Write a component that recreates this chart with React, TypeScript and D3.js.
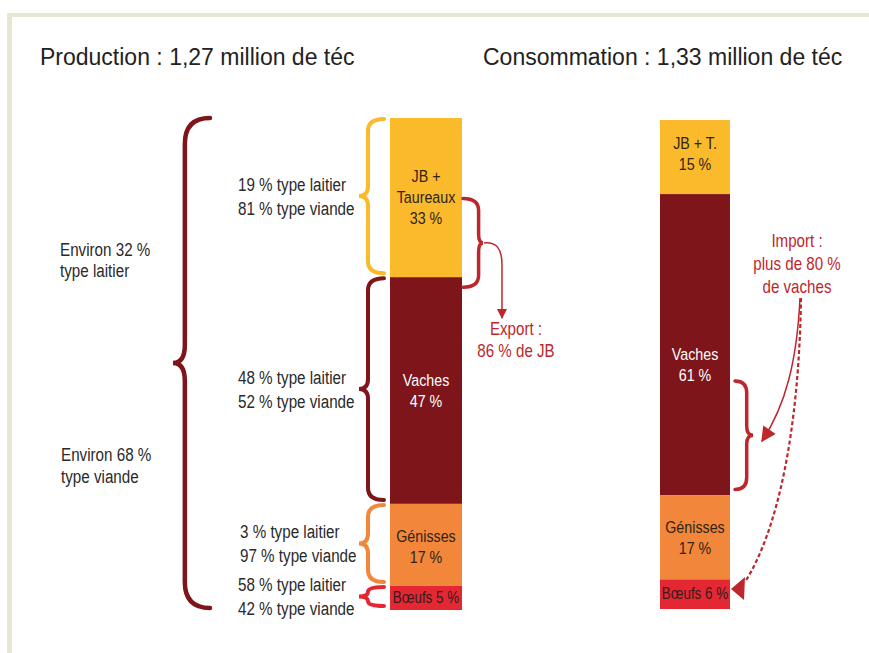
import * as d3 from 'd3';

// segments of the two stacked bars
const SEGMENT_KEYS = ['jb', 'vaches', 'genisses', 'boeufs'];
const PROD_NAMES = [['JB +', 'Taureaux'], ['Vaches'], ['Génisses'], ['Bœufs']];
const CONS_NAMES = [['JB + T.'], ['Vaches'], ['Génisses'], ['Bœufs']];
const PROD_SHARES = [33, 47, 17, 5];
const CONS_SHARES = [15, 61, 17, 6];

// breed split of each production segment
const DAIRY_SHARES = [19, 48, 3, 58];
const MEAT_SHARES = [81, 52, 97, 42];

// whole herd split
const OVERALL_DAIRY = 32;
const OVERALL_MEAT = 68;

const PROD_TOTAL = '1,27';
const CONS_TOTAL = '1,33';

const EXPORT_LINES = ['Export :', '86 % de JB'];
const IMPORT_LINES = ['Import :', 'plus de 80 %', 'de vaches'];

const COLORS = ['#fbb92c', '#7d151b', '#f2863b', '#e32834'];
const TEXT_COLORS = ['#2e2418', '#ffffff', '#2e2418', '#3a1a1a'];
const RED = '#bd262c';
const DARK = '#7d151b';
const INK = '#2a2a2a';

const FONT = "'Liberation Sans', Arial, sans-serif";

const W = 869;
const H = 653;

// curly brace, tip pointing left (dir=-1) or right (dir=1)
const brace = (x0: number, y0: number, y1: number, w: number, dir: number, spine = 0.65, rEnd = 12, rMid = 10) => {
  const xs = x0 + dir * w * spine;
  const xt = x0 + dir * w;
  const ym = (y0 + y1) / 2;
  const re = Math.min(rEnd, (y1 - y0) / 4);
  const rm = Math.min(rMid, (y1 - y0) / 4);
  return `M${x0},${y0} Q${xs},${y0} ${xs},${y0 + re} L${xs},${ym - rm} Q${xs},${ym} ${xt},${ym} Q${xs},${ym} ${xs},${ym + rm} L${xs},${y1 - re} Q${xs},${y1} ${x0},${y1}`;
};

// condensed text: the narrow face is not installed, so squeeze horizontally
type NTextProps = {
  x: number;
  y: number;
  lines: string[];
  lh?: number;
  size?: number;
  sx?: number;
  anchor?: 'start' | 'middle' | 'end';
  fill?: string;
};
const NText = ({ x, y, lines, lh = 22, size = 19, sx = 0.8, anchor = 'start', fill = INK }: NTextProps) => (
  <g transform={`translate(${x},${y}) scale(${sx},1)`}>
    <text textAnchor={anchor} fontFamily={FONT} fontSize={size} fill={fill}>
      {lines.map((l, j) => (
        <tspan key={j} x={0} y={j * lh}>
          {l}
        </tspan>
      ))}
    </text>
  </g>
);

export default function App() {
  const prodX = 390;
  const consX = 660;
  const barW = 72;

  const yProd = d3.scaleLinear().domain([0, d3.sum(PROD_SHARES)]).range([118, 610]);
  const yCons = d3.scaleLinear().domain([0, d3.sum(CONS_SHARES)]).range([120, 609]);

  const stack = (shares: number[]) => {
    let acc = 0;
    return shares.map((v) => {
      const s = { start: acc, end: acc + v, value: v };
      acc += v;
      return s;
    });
  };
  const prodStack = stack(PROD_SHARES);
  const consStack = stack(CONS_SHARES);

  const barLabels = (
    st: { start: number; end: number; value: number }[],
    names: string[][],
    y: d3.ScaleLinear<number, number>,
    cx: number,
    nudge: number[]
  ) =>
    st.map((s, i) => {
      const last = i === st.length - 1;
      const lines = last ? [`${names[i][0]} ${s.value} %`] : [...names[i], `${s.value} %`];
      const mid = (y(s.start) + y(s.end)) / 2 + nudge[i];
      const lh = 21;
      return (
        <NText
          key={SEGMENT_KEYS[i]}
          x={cx}
          y={mid + 6 - ((lines.length - 1) / 2) * lh}
          lines={lines}
          lh={lh}
          size={last ? 16 : 17}
          sx={last ? 0.84 : 0.84}
          anchor="middle"
          fill={TEXT_COLORS[i]}
        />
      );
    });

  // left braces of each production segment
  const segBraces = prodStack.map((s) => {
    const y0 = yProd(s.start) + 1;
    const y1 = yProd(s.end) - 4;
    return { y0, y1, tip: (y0 + y1) / 2 };
  });

  const bigTop = yProd(0);
  const bigBottom = yProd(d3.sum(PROD_SHARES)) - 2;

  const exportY0 = yProd(PROD_SHARES[0] / 2) + 1;
  const exportY1 = yProd(PROD_SHARES[0]) + 10;
  const exportTip = (exportY0 + exportY1) / 2;

  const importY0 = yCons(CONS_SHARES[0] + CONS_SHARES[1] * 0.62);
  const importY1 = yCons(CONS_SHARES[0] + CONS_SHARES[1]) - 6;

  return (
    <svg width={W} height={H} style={{ position: 'absolute', left: 0, top: 0, background: '#fff' }}>
      <defs>
        <marker id="headSmall" viewBox="0 0 10 10" refX="9" refY="5" markerUnits="userSpaceOnUse" markerWidth="12" markerHeight="10" orient="auto">
          <path d="M0,0 L10,5 L0,10 z" fill={RED} />
        </marker>
        <marker id="headBig" viewBox="0 0 10 10" refX="9" refY="5" markerUnits="userSpaceOnUse" markerWidth="17" markerHeight="15" orient="auto">
          <path d="M0,0 L10,5 L0,10 z" fill={RED} />
        </marker>
      </defs>

      {/* frame */}
      <rect x={7} y={13} width={W - 7} height={4} fill="#e9e6d3" />
      <rect x={7} y={13} width={5} height={H - 13} fill="#e9e6d3" />

      {/* titles */}
      <text x={40} y={65} fontFamily={FONT} fontSize={23} fill="#222">
        Production : {PROD_TOTAL} million de téc
      </text>
      <text x={483} y={65} fontFamily={FONT} fontSize={23} fill="#222">
        Consommation : {CONS_TOTAL} million de téc
      </text>

      {/* bars */}
      {prodStack.map((s, i) => (
        <rect key={'p' + SEGMENT_KEYS[i]} x={prodX} y={yProd(s.start)} width={barW} height={yProd(s.end) - yProd(s.start)} fill={COLORS[i]} />
      ))}
      {consStack.map((s, i) => (
        <rect key={'c' + SEGMENT_KEYS[i]} x={consX} y={yCons(s.start)} width={barW - 2} height={yCons(s.end) - yCons(s.start)} fill={COLORS[i]} />
      ))}
      {barLabels(prodStack, PROD_NAMES, yProd, prodX + barW / 2, [-1, 0, 2, -1])}
      {barLabels(consStack, CONS_NAMES, yCons, consX + (barW - 2) / 2, [-4, 20, 0, -1])}

      {/* big brace: whole herd */}
      <path d={brace(210, bigTop, bigBottom, 37, -1, 0.68, 26, 18)} fill="none" stroke={DARK} strokeWidth={4.5} strokeLinecap="round" />
      <NText x={60} y={256} lines={[`Environ ${OVERALL_DAIRY} %`, 'type laitier']} lh={21} />
      <NText x={61} y={461} lines={[`Environ ${OVERALL_MEAT} %`, 'type viande']} lh={22} />

      {/* segment braces and breed split */}
      {segBraces.map((b, i) => (
        <g key={'b' + SEGMENT_KEYS[i]}>
          <path d={brace(384, b.y0, b.y1, 25, -1, 0.64, 12, 10)} fill="none" stroke={COLORS[i]} strokeWidth={4} strokeLinecap="round" />
          <NText
            x={i === 2 ? 240 : 238}
            y={b.tip - 5}
            lines={[`${DAIRY_SHARES[i]} % type laitier`, `${MEAT_SHARES[i]} % type viande`]}
            lh={24}
          />
        </g>
      ))}

      {/* export */}
      <path d={brace(463, exportY0, exportY1, 20, 1, 0.78, 12, 9)} fill="none" stroke={RED} strokeWidth={3.5} strokeLinecap="round" />
      <path d={`M${484},${exportTip} C496,${exportTip - 1} 502,${exportTip + 5} 502,${exportTip + 22} L502,318`} fill="none" stroke={RED} strokeWidth={1.5} markerEnd="url(#headSmall)" />
      <NText x={516} y={335} lines={EXPORT_LINES} lh={22} size={18} sx={0.84} anchor="middle" fill={RED} />

      {/* import */}
      <path d={brace(735, importY0, importY1, 18, 1, 0.65, 12, 9)} fill="none" stroke={RED} strokeWidth={3.5} strokeLinecap="round" />
      <NText x={797} y={247} lines={IMPORT_LINES} lh={23} size={18} sx={0.84} anchor="middle" fill={RED} />
      <path d="M800,298 C797,360 786,405 762,441" fill="none" stroke={RED} strokeWidth={1.5} markerEnd="url(#headBig)" />
      <path d="M801,298 C799,430 778,530 745,582" fill="none" stroke={RED} strokeWidth={2.2} strokeDasharray="4,2.5" />
      <path d="M731,589 L745,577 L744,600 Z" fill={RED} />
    </svg>
  );
}
